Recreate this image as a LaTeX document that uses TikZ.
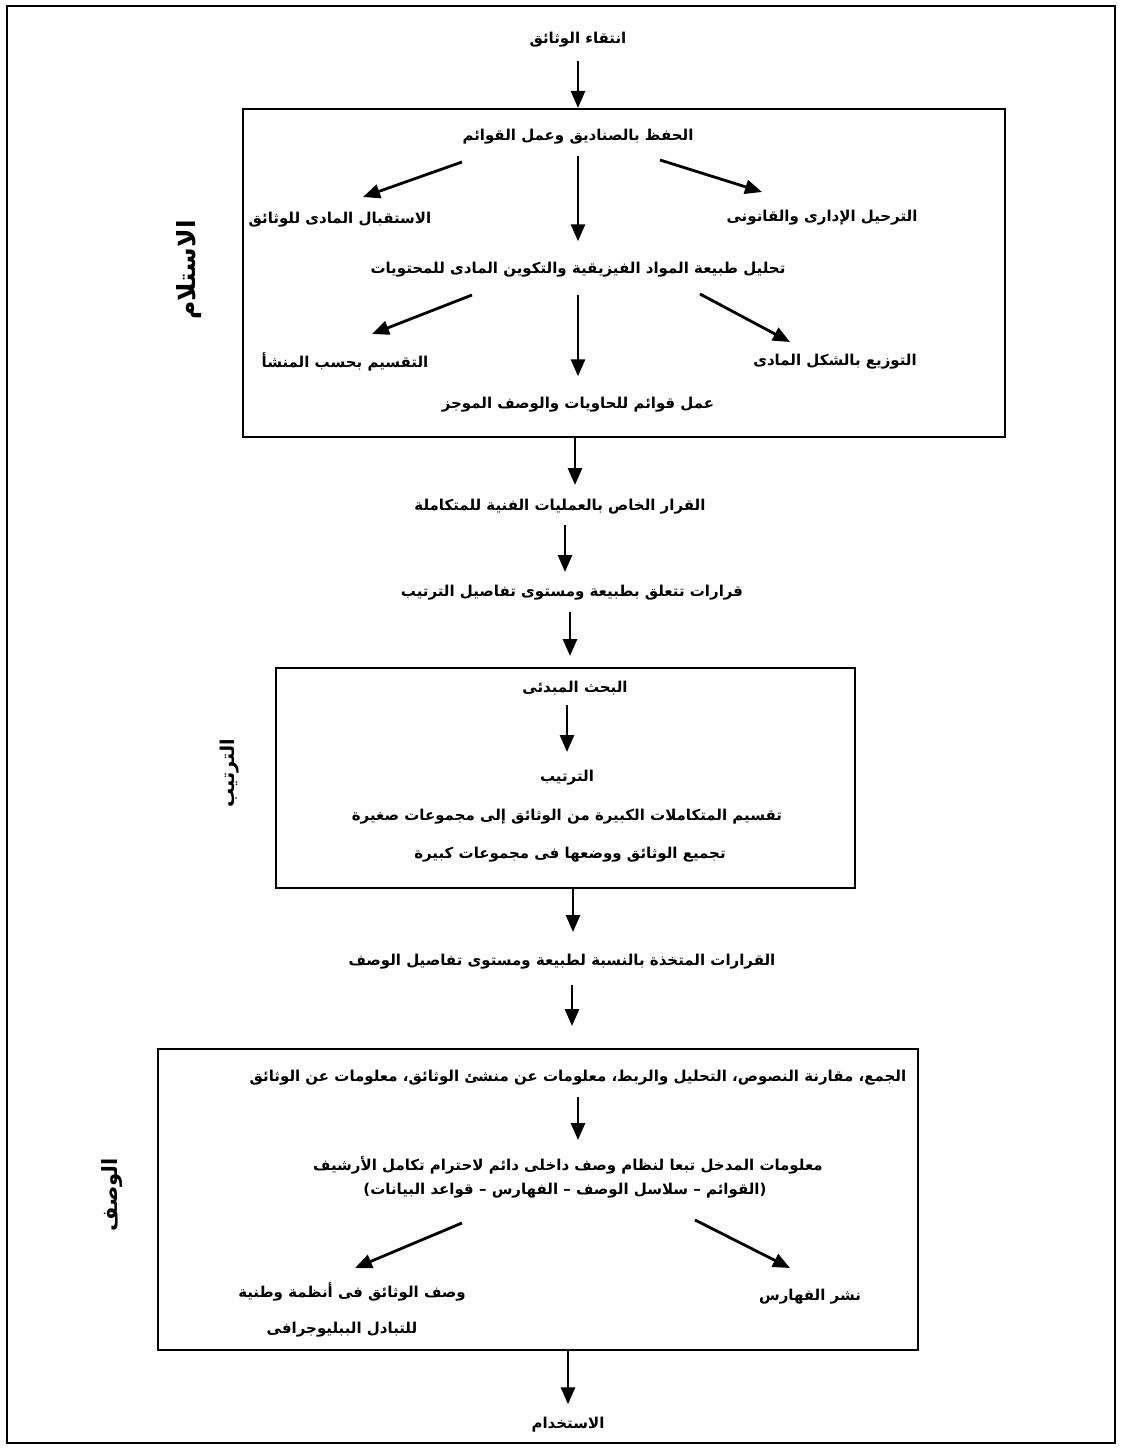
\documentclass[tikz,border=0pt]{standalone}
\usepackage{fontspec}
\newfontfamily\arabicfont[Script=Arabic]{DejaVu Sans}
\TeXXeTstate=1
\usetikzlibrary{arrows.meta,calc}
\tikzset{
  lbl/.style={font=\arabicfont\bfseries\fontsize{15}{17}\selectfont, inner sep=1pt},
  side/.style={inner sep=1pt, rotate=90, font=\arabicfont\bfseries\fontsize{#1}{#1}\selectfont},
  arr/.style={line width=2.8pt, -{Triangle[length=17pt,width=14pt]}},
  panel/.style={draw, line width=2.2pt, inner sep=0pt},
}
\newcommand{\artext}[1]{\beginR #1\endR}
\begin{document}
\begin{tikzpicture}[x=1pt,y=-1pt]
\useasboundingbox (0,0) rectangle (1120,1448);
\draw[line width=2.4pt] (7,6) rectangle (1115,1443);

% boxes
\node[panel, minimum width=762pt, minimum height=328pt] (box1) at (624,273) {};
\node[panel, minimum width=579pt, minimum height=220pt] (box2) at (565.5,778) {};
\node[panel, minimum width=760pt, minimum height=301pt] (box3) at (538,1199.5) {};

% side labels
\node[side=25] (s1) at (189,270) {\artext{الاستلام}};
\node[side=19] (s2) at (230,773) {\artext{الترتيب}};
\node[side=21] (s3) at (112,1195) {\artext{الوصف}};

% top
\node[lbl] (t0) at (578,40) {\artext{انتقاء الوثائق}};
\draw[arr] ($(t0.south)+(0,12)$) -- (t0.south |- box1.north);

% box 1
\node[lbl] (b1a) at (578,137) {\artext{الحفظ بالصناديق وعمل القوائم}};
\node[lbl] (b1l) at (340,220) {\artext{الاستقبال المادى للوثائق}};
\node[lbl] (b1r) at (822,218) {\artext{الترحيل الإدارى والقانونى}};
\node[lbl] (b1b) at (578,270) {\artext{تحليل طبيعة المواد الفيزيقية والتكوين المادى للمحتويات}};
\node[lbl] (b1l2) at (345,362) {\artext{التقسيم بحسب المنشأ}};
\node[lbl] (b1r2) at (835,362) {\artext{التوزيع بالشكل المادى}};
\node[lbl] (b1c) at (578,405) {\artext{عمل قوائم للحاويات والوصف الموجز}};

\coordinate (a1s) at (462,162); \coordinate (a1e) at (363,197);
\coordinate (a2s) at (660,160); \coordinate (a2e) at (762,192);
\coordinate (a3s) at (472,295); \coordinate (a3e) at (372,334);
\coordinate (a4s) at (700,294); \coordinate (a4e) at (790,342);
\draw[arr] (a1s) -- (a1e);
\draw[arr] (a2s) -- (a2e);
\draw[arr] (a3s) -- (a3e);
\draw[arr] (a4s) -- (a4e);
\draw[arr] ($(b1a.south)+(0,10)$) -- ($(b1b.north)+(0,-20)$);
\draw[arr] ($(b1b.south)+(0,16)$) -- ($(b1c.north)+(0,-20)$);

% between boxes 1 and 2
\node[lbl] (m1) at (560,507) {\artext{القرار الخاص بالعمليات الفنية للمتكاملة}};
\node[lbl] (m2) at (572,593) {\artext{قرارات تتعلق بطبيعة ومستوى تفاصيل الترتيب}};
\draw[arr] (575,437) -- (575,485);
\draw[arr] (565,525) -- (565,572);
\draw[arr] (570,612) -- (570,656);

% box 2
\node[lbl] (b2a) at (575,688) {\artext{البحث المبدئى}};
\node[lbl] (b2b) at (567,778) {\artext{الترتيب}};
\node[lbl] (b2c) at (567,817) {\artext{تقسيم المتكاملات الكبيرة من الوثائق إلى مجموعات صغيرة}};
\node[lbl] (b2d) at (570,855) {\artext{تجميع الوثائق ووضعها فى مجموعات كبيرة}};
\draw[arr] (567,705) -- (567,752);

% between boxes 2 and 3
\node[lbl] (m3) at (562,962) {\artext{القرارات المتخذة بالنسبة لطبيعة ومستوى تفاصيل الوصف}};
\draw[arr] (573,888) -- (573,932);
\draw[arr] (572,985) -- (572,1026);

% box 3
\node[lbl] (b3a) at (578,1078) {\artext{الجمع، مقارنة النصوص، التحليل والربط، معلومات عن منشئ الوثائق، معلومات عن الوثائق}};
\node[lbl] (b3b) at (568,1165) {\artext{معلومات المدخل تبعا لنظام وصف داخلى دائم لاحترام تكامل الأرشيف}};
\node[lbl] (b3c) at (565,1191) {\artext{(القوائم – سلاسل الوصف – الفهارس – قواعد البيانات)}};
\node[lbl] (b3l) at (352,1292) {\artext{وصف الوثائق فى أنظمة وطنية}};
\node[lbl] (b3l2) at (342,1330) {\artext{للتبادل الببليوجرافى}};
\node[lbl] (b3r) at (810,1297) {\artext{نشر الفهارس}};
\draw[arr] (578,1097) -- (578,1140);
\coordinate (a5s) at (462,1223); \coordinate (a5e) at (355,1268);
\coordinate (a6s) at (695,1220); \coordinate (a6e) at (790,1268);
\draw[arr] (a5s) -- (a5e);
\draw[arr] (a6s) -- (a6e);

% bottom
\node[lbl] (t9) at (568,1425) {\artext{الاستخدام}};
\draw[arr] (t9.north |- box3.south) -- ($(t9.north)+(0,-12)$);
\end{tikzpicture}
\end{document}
